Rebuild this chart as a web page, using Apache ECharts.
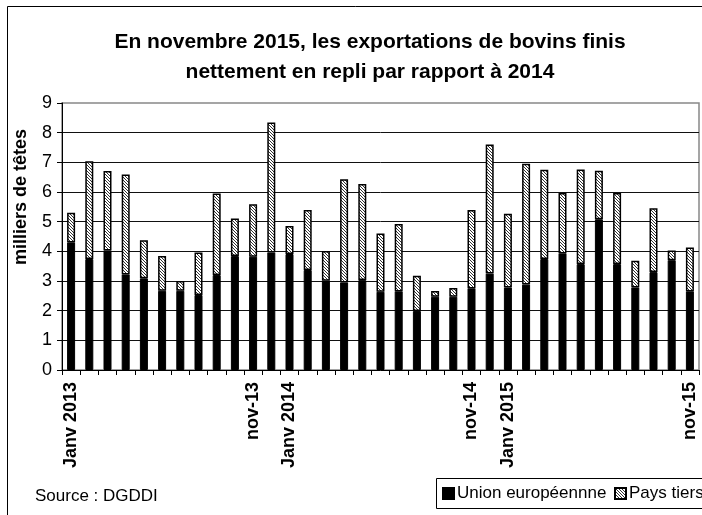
<!DOCTYPE html>
<html>
<head>
<meta charset="utf-8">
<script src="https://cdn.jsdelivr.net/npm/echarts@6/dist/echarts.min.js"></script>
<style>
  html, body { margin: 0; padding: 0; background: #fff; }
  #chart { width: 702px; height: 515px; }
</style>
</head>
<body>
<div id="chart"></div>
<script>
// mois de janv. 2013 à nov. 2015
var months = ['janv-13','févr-13','mars-13','avr-13','mai-13','juin-13','juil-13','août-13','sept-13','oct-13','nov-13','déc-13',
              'janv-14','févr-14','mars-14','avr-14','mai-14','juin-14','juil-14','août-14','sept-14','oct-14','nov-14','déc-14',
              'janv-15','févr-15','mars-15','avr-15','mai-15','juin-15','juil-15','août-15','sept-15','oct-15','nov-15'];
// libellés affichés sous l'axe
var tickLabels = ['Janv 2013','','','','','','','','','','nov-13','',
                  'Janv 2014','','','','','','','','','','nov-14','',
                  'Janv 2015','','','','','','','','','','nov-15'];
// milliers de têtes
var unionEuropeenne = [4.30,3.74,4.03,3.22,3.09,2.67,2.67,2.53,3.20,3.84,3.82,3.96,
                       3.91,3.37,3.01,2.95,3.03,2.64,2.65,1.99,2.47,2.47,2.75,3.25,
                       2.78,2.88,3.74,3.93,3.57,5.08,3.57,2.78,3.30,3.70,2.65];
var paysTiers = [1.00,3.30,2.68,3.37,1.28,1.17,0.33,1.43,2.75,1.27,1.77,4.38,
                 0.94,2.02,1.00,3.48,3.24,1.96,2.27,1.19,0.19,0.29,2.64,4.35,
                 2.49,4.07,3.01,2.04,3.19,1.64,2.40,0.90,2.15,0.33,1.48];
var yTicks = [0,1,2,3,4,5,6,7,8,9];

var font = "'Liberation Sans', Arial, sans-serif";

// hachures pour les pays tiers
var pat = document.createElement('canvas');
pat.width = 3; pat.height = 3;
var ctx = pat.getContext('2d');
ctx.fillStyle = '#fff';
ctx.fillRect(0, 0, 3, 3);
ctx.strokeStyle = '#333';
ctx.lineWidth = 1;
ctx.beginPath();
ctx.moveTo(-1, -1); ctx.lineTo(4, 4);
ctx.moveTo(-1, 2); ctx.lineTo(1, 4);
ctx.moveTo(2, -1); ctx.lineTo(4, 1);
ctx.stroke();

var chart = echarts.init(document.getElementById('chart'));

var legendBase = {
    top: 485,
    itemWidth: 11,
    itemHeight: 11,
    padding: 0,
    z: 10,
    icon: 'rect',
    textStyle: { fontFamily: font, fontSize: 17, color: '#000', padding: [0, 0, 0, -2] }
};

var option = {
    animation: false,
    backgroundColor: '#fff',
    textStyle: { fontFamily: font },
    title: {
        text: 'En novembre 2015, les exportations de bovins finis\nnettement en repli par rapport à 2014',
        left: 365,
        top: 22,
        textAlign: 'center',
        textStyle: { fontFamily: font, fontSize: 21, fontWeight: 'bold', color: '#000', lineHeight: 30 }
    },
    grid: {
        left: 62, right: 3, top: 103, bottom: 145,
        show: true,
        borderColor: '#888',
        borderWidth: 1.5,
        backgroundColor: 'transparent'
    },
    legend: [
        Object.assign({}, legendBase, { left: 442, data: ['Union européennne'] }),
        Object.assign({}, legendBase, { left: 614, data: ['Pays tiers'] })
    ],
    xAxis: {
        type: 'category',
        data: months,
        boundaryGap: true,
        axisLine: { lineStyle: { color: '#000', width: 1 } },
        axisTick: { show: true, length: 5, interval: 0, lineStyle: { color: '#000' } },
        axisLabel: {
            interval: 0,
            rotate: 90,
            margin: 12,
            fontSize: 18,
            fontWeight: 'bold',
            color: '#000',
            fontFamily: font,
            formatter: function (v, i) { return tickLabels[i]; }
        },
        splitLine: { show: false }
    },
    yAxis: {
        type: 'value',
        min: yTicks[0],
        max: yTicks[yTicks.length - 1],
        interval: 1,
        axisLine: { show: true, lineStyle: { color: '#000', width: 1 } },
        axisTick: { show: true, length: 5, lineStyle: { color: '#000' } },
        axisLabel: { margin: 10, fontSize: 18, color: '#000', fontFamily: font },
        splitLine: { show: true, showMinLine: false, showMaxLine: false, lineStyle: { color: '#111', width: 1 } }
    },
    series: [
        {
            name: 'Union européennne',
            type: 'bar',
            stack: 'total',
            barWidth: 8,
            itemStyle: { color: '#000', borderColor: '#000', borderWidth: 1 },
            data: unionEuropeenne
        },
        {
            name: 'Pays tiers',
            type: 'bar',
            stack: 'total',
            barWidth: 8,
            itemStyle: { color: { image: pat, repeat: 'repeat' }, borderColor: '#000', borderWidth: 1.5 },
            data: paysTiers
        }
    ],
    graphic: [
        {
            type: 'rect', z: 0, silent: true,
            shape: { x: 7.5, y: 6.5, width: 720, height: 540 },
            style: { fill: 'none', stroke: '#000', lineWidth: 1 }
        },
        {
            type: 'rect', z: 1, silent: true,
            shape: { x: 436.5, y: 478.5, width: 300, height: 30 },
            style: { fill: '#fff', stroke: '#000', lineWidth: 1 }
        },
        {
            type: 'text', z: 2, silent: true,
            x: 21, y: 197, rotation: Math.PI / 2,
            style: {
                text: 'milliers de têtes', fontFamily: font, fontSize: 18, fontWeight: 'bold',
                fill: '#000', align: 'center', verticalAlign: 'middle'
            }
        },
        {
            type: 'text', z: 2, silent: true,
            x: 35, y: 496,
            style: {
                text: 'Source : DGDDI', fontFamily: font, fontSize: 17,
                fill: '#000', align: 'left', verticalAlign: 'middle'
            }
        }
    ]
};

chart.setOption(option);
</script>
</body>
</html>
